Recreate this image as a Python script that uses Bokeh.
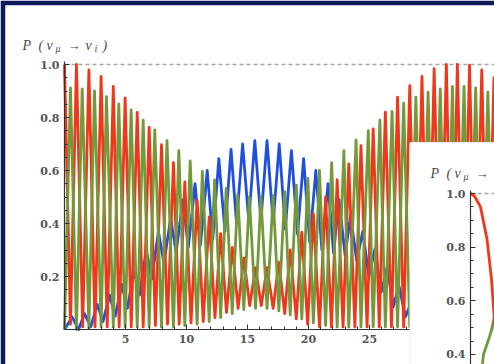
from bokeh.plotting import figure
from bokeh.models import Range1d, LinearAxis, FixedTicker, Label, PrintfTickFormatter
from bokeh.embed import file_html
from bokeh.resources import INLINE

# ---------------- data (extrema of each curve) ----------------
red_x = [0.0, 0.49, 0.98, 1.49, 2.0, 2.5, 3.0, 3.5, 4.0, 4.48, 4.97, 5.47, 5.96, 6.45, 6.94, 7.45,
         7.95, 8.44, 8.93, 9.4, 9.86, 10.37, 10.87, 11.37, 11.86, 12.33, 12.8, 13.28, 13.75, 14.23,
         14.7, 15.18, 15.66, 16.13, 16.6, 17.1, 17.57, 18.05, 18.5, 19.0, 19.45, 19.93, 20.4, 20.9,
         21.4, 21.88, 22.35, 22.83, 23.3, 23.8, 24.3, 24.8, 25.3, 25.8, 26.3, 26.8, 27.3, 27.8,
         28.3, 28.8, 29.3, 29.8, 30.3, 30.8, 31.3, 31.75, 32.2, 32.7, 33.2, 33.7, 34.2, 34.7, 35.2, 35.7]
red_y = [1.0, 0.02, 1.0, 0.01, 0.98, 0.01, 0.955, 0.01, 0.917, 0.01, 0.874, 0.01, 0.819, 0.01, 0.763, 0.015,
         0.698, 0.02, 0.63, 0.02, 0.557, 0.025, 0.488, 0.03, 0.425, 0.045, 0.362, 0.065, 0.31, 0.08,
         0.27, 0.09, 0.233, 0.09, 0.233, 0.08, 0.254, 0.06, 0.30, 0.04, 0.367, 0.02, 0.436, 0.01,
         0.50, 0.01, 0.565, 0.01, 0.625, 0.01, 0.694, 0.01, 0.757, 0.01, 0.82, 0.01, 0.877, 0.01,
         0.92, 0.01, 0.955, 0.01, 0.984, 0.01, 1.0, 0.01, 1.0, 0.01, 0.998, 0.01, 0.98, 0.01, 0.95, 0.01]

green_x = [0.0, 0.49, 0.98, 1.45, 2.0, 2.46, 3.0, 3.44, 4.0, 4.45, 4.97, 5.46, 5.96, 6.45, 6.94, 7.4,
           7.95, 8.4, 8.93, 9.37, 9.86, 10.3, 10.87, 11.3, 11.86, 12.3, 12.8, 13.25, 13.75, 14.2,
           14.7, 15.15, 15.66, 16.1, 16.6, 17.1, 17.57, 18.05, 18.5, 19.0, 19.45, 19.95, 20.4, 20.9,
           21.4, 21.9, 22.35, 22.9, 23.3, 23.9, 24.3, 24.9, 25.3, 25.85, 26.3, 26.85, 27.3, 27.8,
           28.3, 28.8, 29.3, 29.8, 30.3, 30.8, 31.3, 31.8, 32.2, 32.75, 33.2, 33.7, 34.2, 34.7, 35.2, 35.7]
green_y = [0.0, 0.912, 0.0, 0.908, 0.005, 0.90, 0.01, 0.879, 0.01, 0.851, 0.01, 0.829, 0.01, 0.79, 0.01, 0.753,
           0.01, 0.713, 0.01, 0.675, 0.015, 0.636, 0.02, 0.597, 0.03, 0.565, 0.045, 0.532, 0.06, 0.507,
           0.075, 0.50, 0.08, 0.50, 0.08, 0.505, 0.07, 0.52, 0.055, 0.545, 0.04, 0.57, 0.025, 0.60,
           0.015, 0.63, 0.01, 0.675, 0.01, 0.715, 0.01, 0.75, 0.01, 0.79, 0.01, 0.823, 0.01, 0.854,
           0.01, 0.877, 0.01, 0.896, 0.01, 0.908, 0.0, 0.917, 0.0, 0.917, 0.0, 0.912, 0.01, 0.896, 0.02, 0.87]

blue_x = [0.0, 0.63, 1.15, 1.64, 2.15, 2.68, 3.15, 3.7, 4.15, 4.7, 5.15, 5.7, 6.15, 6.7, 7.15, 7.7,
          8.15, 8.7, 9.15, 9.7, 10.15, 10.7, 11.15, 11.7, 12.15, 12.65, 13.15, 13.65, 14.1, 14.6,
          15.1, 15.6, 16.1, 16.6, 17.1, 17.6, 18.1, 18.6, 19.1, 19.6, 20.1, 20.6, 21.1, 21.6,
          22.05, 22.5, 23.0, 23.45, 23.95, 24.45, 24.95, 25.45, 25.95, 26.45, 26.95, 27.4, 27.95, 28.4, 28.9]
blue_y = [0.0, 0.047, 0.0, 0.06, 0.01, 0.095, 0.03, 0.13, 0.05, 0.17, 0.08, 0.22, 0.13, 0.30, 0.19, 0.37,
          0.25, 0.42, 0.29, 0.49, 0.31, 0.55, 0.32, 0.60, 0.34, 0.645, 0.37, 0.68, 0.40, 0.70,
          0.41, 0.713, 0.41, 0.713, 0.40, 0.70, 0.38, 0.675, 0.36, 0.645, 0.33, 0.60, 0.30, 0.55,
          0.29, 0.49, 0.28, 0.43, 0.26, 0.37, 0.20, 0.305, 0.14, 0.236, 0.085, 0.167, 0.048, 0.10, 0.02]

# inset (zoom on the first fall of P(nu_mu -> nu_mu))
inset_red_x = [0.0, 0.04, 0.10, 0.165, 0.21, 0.235, 0.26, 0.29]
inset_red_y = [1.0, 0.99, 0.95, 0.83, 0.68, 0.55, 0.42, 0.30]
inset_green_x = [0.10, 0.13, 0.20, 0.24, 0.27]
inset_green_y = [0.30, 0.40, 0.477, 0.54, 0.60]

x_ticks = [5, 10, 15, 20, 25]
x_minor = [v for v in range(1, 29) if v % 5 != 0]
y_ticks = [0.2, 0.4, 0.6, 0.8, 1.0]
y_minor = [round(0.05 * k, 2) for k in range(1, 20) if k % 4 != 0]
inset_y_ticks = [0.4, 0.6, 0.8, 1.0]
inset_y_minor = [round(0.05 * k, 2) for k in range(6, 20) if k % 4 != 0]

# ---------------- geometry / style ----------------
W, H = 494, 364
PAD = 5
NAVY = "#0c1a5b"
RED, GREEN, BLUE = "#f2361a", "#74993a", "#1f4fe0"
TXT = "#555555"

ORG_X, ORG_Y = 64, 329      # pixel of main (0,0)
SX, SY = 12.2, 265.0        # px per unit
I_ORG_X, I_ORG_Y1 = 470, 193  # pixel of inset x=0, y=1
I_SX, I_SY = 100.0, 268.3
BOX_L, BOX_T = 409.5, 142   # inset panel top-left pixel

def mx(px): return (px - ORG_X) / SX
def my(py): return (ORG_Y - py) / SY
def ix(px): return (px - I_ORG_X) / I_SX
def iy(py): return 1.0 + (I_ORG_Y1 - py) / I_SY

p = figure(width=W, height=H, output_backend="svg", toolbar_location=None, title=None,
           x_range=Range1d(mx(PAD), mx(W)), y_range=Range1d(my(H), my(PAD)),
           x_axis_type=None, y_axis_type=None,
           min_border_left=PAD, min_border_top=PAD, min_border_right=0, min_border_bottom=0)
p.extra_x_ranges = {"inset": Range1d(ix(PAD), ix(W))}
p.extra_y_ranges = {"inset": Range1d(iy(H), iy(PAD))}
p.border_fill_color = NAVY
p.background_fill_color = "white"
p.outline_line_color = None

LW = 2.8
p.segment(x0=[0], y0=[1.0], x1=[mx(W)], y1=[1.0], line_color="#a8a8a8", line_width=1.3, line_dash="4 3")
p.line(blue_x, blue_y, line_color=BLUE, line_width=LW, line_join="round")
p.line(red_x, red_y, line_color=RED, line_width=LW, line_join="round")
p.line(green_x, green_y, line_color=GREEN, line_width=LW, line_join="round")


def style_axis(ax, ticks, minor, fmt=None):
    ax.ticker = FixedTicker(ticks=ticks, minor_ticks=minor)
    if fmt:
        ax.formatter = PrintfTickFormatter(format=fmt)
    ax.axis_line_color = "#333333"
    ax.axis_line_width = 1.2
    ax.major_tick_line_color = "#333333"
    ax.minor_tick_line_color = "#333333"
    ax.major_tick_in = 5
    ax.major_tick_out = 0
    ax.minor_tick_in = 3
    ax.minor_tick_out = 0
    ax.major_label_text_font = "DejaVu Serif"
    ax.major_label_text_font_style = "bold"
    ax.major_label_text_font_size = "11px"
    ax.major_label_text_color = TXT


xa = LinearAxis(fixed_location=0, bounds=(0, mx(BOX_L - 1)))
style_axis(xa, x_ticks, x_minor)
xa.major_label_standoff = 5
p.add_layout(xa, "below")

ya = LinearAxis(fixed_location=0, bounds=(0, 1.01))
style_axis(ya, y_ticks, y_minor, "%.1f")
ya.major_label_standoff = 5
p.add_layout(ya, "left")

# inset panel
p.quad(left=[mx(BOX_L)], right=[mx(W + 5)], bottom=[my(H + 5)], top=[my(BOX_T)],
       fill_color="white", line_color="#eeeeee", line_width=1)
p.segment(x0=[0], y0=[1.0], x1=[ix(W)], y1=[1.0], x_range_name="inset", y_range_name="inset",
          line_color="#a8a8a8", line_width=1.3, line_dash="4 3")
p.line(inset_green_x, inset_green_y, x_range_name="inset", y_range_name="inset",
       line_color=GREEN, line_width=LW)
p.line(inset_red_x, inset_red_y, x_range_name="inset", y_range_name="inset",
       line_color=RED, line_width=LW)

iya = LinearAxis(x_range_name="inset", y_range_name="inset", fixed_location=0, bounds=(0.3, 1.01))
style_axis(iya, inset_y_ticks, inset_y_minor, "%.1f")
iya.major_label_standoff = 5
p.add_layout(iya, "left")

TITLE_PARTS = [("P", 0, 0, "14px"), ("(", 16, 0, "14px"), ("ν", 24, 0, "14px"), ("μ", 33, 3, "10px"),
               ("→", 45, 0, "13px"), ("ν", 63, 0, "14px"), ("i", 72, 3, "10px"), (")", 80, 0, "14px")]


def title_parts(x_of, y_of, x_name, y_name, x0, base, limit):
    for txt, dx, dy, size in TITLE_PARTS:
        if x0 + dx + 8 > limit:
            continue
        kw = {}
        if x_name:
            kw = dict(x_range_name=x_name, y_range_name=y_name)
        p.add_layout(Label(x=x_of(x0 + dx), y=y_of(base + dy), text=txt, text_font="Liberation Serif",
                           text_font_style="italic", text_font_size=size, text_color="#4a4a4a",
                           text_baseline="alphabetic", **kw))


title_parts(mx, my, None, None, 22, 45, W)
title_parts(ix, iy, "inset", "inset", 430, 173, W)

open("out.html", "w").write(file_html(p, INLINE))
